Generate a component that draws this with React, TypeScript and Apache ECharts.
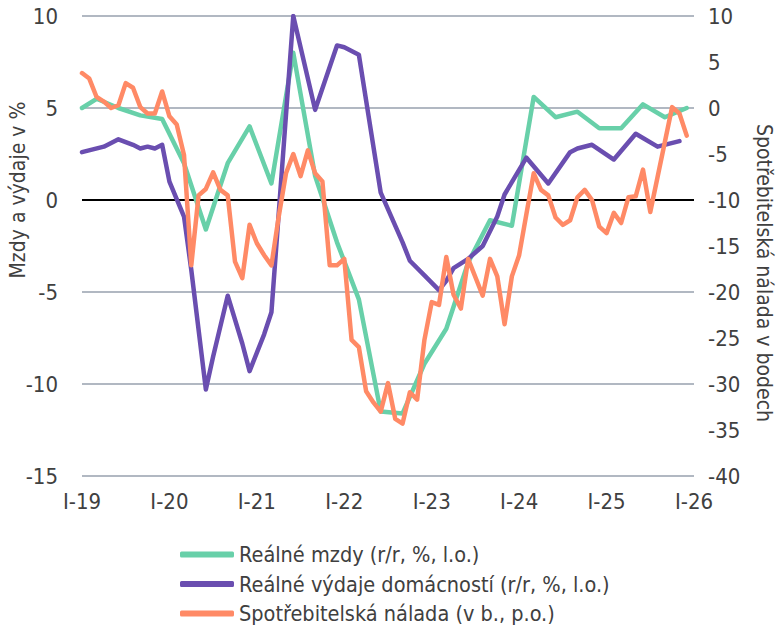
import React, { useEffect, useRef } from "react";
import * as echarts from "echarts";

const xTickLabels = ["I-19", "I-20", "I-21", "I-22", "I-23", "I-24", "I-25", "I-26"];

const seriesNames = [
  "Reálné mzdy (r/r, %, l.o.)",
  "Reálné výdaje domácností (r/r, %, l.o.)",
  "Spotřebitelská nálada (v b., p.o.)",
];

// month index from I-19 (0) to I-26 (84)
const wageMonths = [0, 2, 5, 8, 11, 14, 17, 20, 23, 26, 29, 32, 35, 38, 41, 44, 47, 50, 53, 56, 59, 62, 65, 68, 71, 74, 77, 80, 83];
const wageValues = [5.0, 5.5, 5.0, 4.6, 4.4, 2.0, -1.6, 2.0, 4.0, 0.9, 8.0, 1.3, -2.3, -5.4, -11.5, -11.6, -8.9, -7.0, -3.4, -1.1, -1.4, 5.6, 4.5, 4.8, 3.9, 3.9, 5.2, 4.5, 5.0];

const spendMonths = [0, 3, 5, 7, 8, 9, 10, 11, 12, 14, 15, 17, 18, 20, 22, 23, 25, 26, 29, 32, 35, 36, 38, 41, 44, 45, 47, 49, 50, 51, 53, 55, 57, 58, 61, 64, 67, 68, 70, 73, 76, 79, 82];
const spendValues = [2.6, 2.9, 3.3, 3.0, 2.8, 2.9, 2.8, 3.0, 1.0, -0.9, -3.8, -10.3, -8.5, -5.2, -7.8, -9.3, -7.3, -6.1, 10.0, 4.9, 8.4, 8.3, 7.9, 0.4, -2.3, -3.3, -4.1, -4.9, -4.4, -3.7, -3.2, -2.5, -0.9, 0.3, 2.3, 0.9, 2.6, 2.8, 3.0, 2.2, 3.6, 2.9, 3.2];

// monthly, starting I-19
const moodValues = [
  3.8, 3.2, 1.2, 0.7, 0.0, 0.3, 2.7, 2.2, 0.1, -0.6, -0.6, 1.8,
  -0.9, -1.8, -5.1, -17.1, -9.5, -8.8, -7.0, -8.9, -9.5, -16.7, -18.5, -12.7,
  -14.7, -16.0, -17.1, -11.8, -7.1, -5.0, -7.4, -4.6, -7.1, -8.0, -17.1, -17.1,
  -16.4, -25.2, -26.0, -30.8, -32.0, -33.0, -29.9, -33.8, -34.3, -30.9, -31.7, -25.2,
  -21.1, -21.4, -16.2, -20.3, -21.8, -16.4, -18.4, -20.4, -16.4, -18.3, -23.5, -18.3,
  -16.0, -11.5, -7.1, -8.9, -9.5, -11.9, -12.7, -12.2, -9.7, -8.9, -10.0, -12.9,
  -13.6, -11.4, -12.5, -9.7, -9.6, -6.7, -11.3, -7.5, -3.7, 0.1, -0.6, -3.0,
];

const colors = ["#68d0a9", "#6a4eb0", "#ff8a66"];
const FONT = "'Liberation Sans Narrow', 'DejaVu Sans Condensed', Lato, sans-serif";
const TXT = "#404040";

export default function App() {
  const ref = useRef<HTMLDivElement>(null);
  useEffect(() => {
    if (!ref.current) return;
    const chart = echarts.init(ref.current, null, { renderer: "svg" });
    const wageData = wageMonths.map((m, i) => [m, wageValues[i]]);
    const spendData = spendMonths.map((m, i) => [m, spendValues[i]]);
    const moodData = moodValues.map((v, i) => [i, v]);
    const lineCommon = {
      type: "line",
      showSymbol: false,
      symbol: "none",
      smooth: false,
      lineStyle: { width: 4.5, join: "round", cap: "round" },
    };
    chart.setOption({
      animation: false,
      backgroundColor: "#ffffff",
      color: colors,
      textStyle: { fontFamily: FONT },
      grid: { left: 82, right: 84, top: 16, bottom: 154, containLabel: false },
      legend: {
        orient: "vertical",
        left: 180,
        top: 543,
        padding: 0,
        icon: "roundRect",
        itemWidth: 54,
        itemHeight: 6,
        itemGap: 6.5,
        textStyle: { fontSize: 21.5, color: TXT, fontFamily: FONT, lineHeight: 23 },
        data: seriesNames,
      },
      xAxis: {
        type: "value",
        min: 0,
        max: 84,
        interval: 12,
        axisLine: { show: false },
        axisTick: { show: false },
        splitLine: { show: false },
        axisLabel: {
          fontSize: 22,
          color: TXT,
          margin: 14,
          formatter: (v: number) => xTickLabels[Math.round(v / 12)] ?? "",
        },
      },
      yAxis: [
        {
          type: "value",
          min: -15,
          max: 10,
          interval: 5,
          axisLine: { show: false },
          axisTick: { show: false },
          axisLabel: { fontSize: 22, color: TXT, margin: 24 },
          splitLine: { show: true, lineStyle: { color: "#97a1ae", width: 1.5 } },
        },
        {
          type: "value",
          min: -40,
          max: 10,
          interval: 5,
          axisLine: { show: false },
          axisTick: { show: false },
          axisLabel: { fontSize: 22, color: TXT, margin: 14 },
          splitLine: { show: false },
        },
      ],
      graphic: [
        {
          type: "text",
          x: 18,
          y: 190,
          rotation: Math.PI / 2,
          style: {
            text: "Mzdy a výdaje v %",
            font: `21px ${FONT}`,
            fill: TXT,
            textAlign: "center",
            textVerticalAlign: "middle",
          },
        },
        {
          type: "text",
          x: 764,
          y: 273,
          rotation: -Math.PI / 2,
          style: {
            text: "Spotřebitelská nálada v bodech",
            font: `21px ${FONT}`,
            fill: TXT,
            textAlign: "center",
            textVerticalAlign: "middle",
          },
        },
      ],
      series: [
        {
          ...lineCommon,
          name: seriesNames[0],
          yAxisIndex: 0,
          data: wageData,
          z: 3,
          markLine: {
            silent: true,
            symbol: "none",
            label: { show: false },
            lineStyle: { color: "#000000", width: 2, type: "solid" },
            data: [{ yAxis: 0 }],
            z: 1,
          },
        },
        { ...lineCommon, name: seriesNames[1], yAxisIndex: 0, data: spendData, z: 4 },
        { ...lineCommon, name: seriesNames[2], yAxisIndex: 1, data: moodData, z: 5 },
      ],
    });
    return () => chart.dispose();
  }, []);
  return <div ref={ref} style={{ width: 778, height: 630, position: "absolute", left: 0, top: 0 }} />;
}
